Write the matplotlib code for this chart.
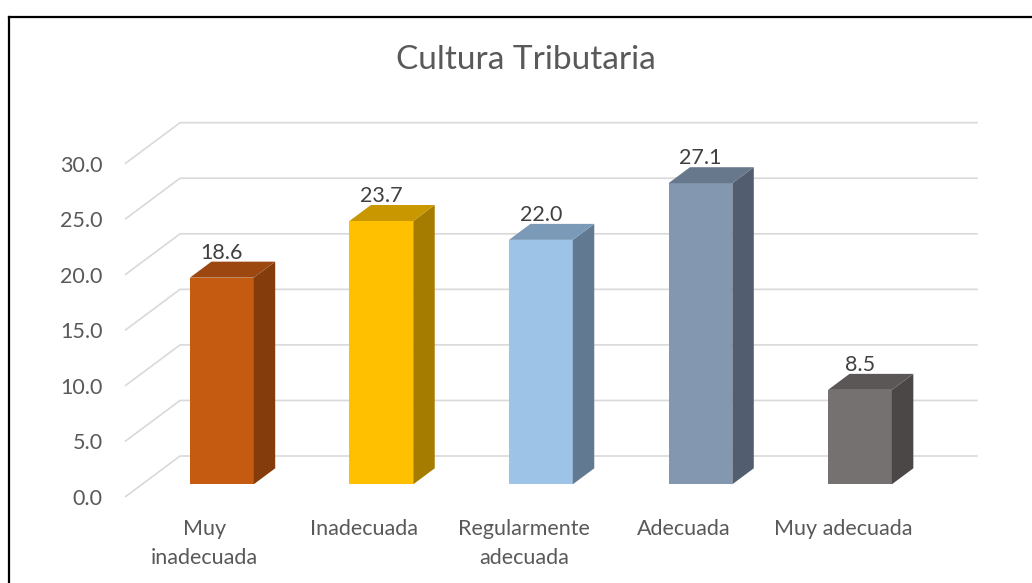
import matplotlib
matplotlib.use('Agg')
import matplotlib.pyplot as plt
from matplotlib.patches import Polygon
from matplotlib.lines import Line2D

categorias = ['Muy\ninadecuada', 'Inadecuada', 'Regularmente\nadecuada', 'Adecuada', 'Muy adecuada']
valores = [18.6, 23.7, 22.0, 27.1, 8.5]
colores = ['#C55A11', '#FFC000', '#9DC3E6', '#8497B0', '#767171']
lados = ['#843C0C', '#A67C00', '#627A91', '#525E6F', '#4B4747']
techos = ['#9C4710', '#C99700', '#7B9AB8', '#67778C', '#5B5757']
yticks = [0, 5, 10, 15, 20, 25, 30]

plt.rcParams['font.family'] = ['Lato', 'DejaVu Sans']

# falso 3D: desplazamiento de profundidad (en unidades de datos)
DX = 0.345
DY = 3.69
d1, d2 = 0.31, 0.70   # cara frontal / trasera de las barras
ancho = 0.4

fig = plt.figure(figsize=(10.32, 5.83), dpi=100)
ax = fig.add_axes([125/1032, (583-497)/583, (977.7-125)/1032, (497-122.7)/583])
ax.set_xlim(0, 5 + DX)
ax.set_ylim(0, 30 + DY)
for s in ax.spines.values():
    s.set_visible(False)

# lineas de cuadricula (suelo + pared del fondo)
for v in yticks:
    ax.plot([0, DX, 5 + DX], [v, v + DY, v + DY], color='#D9D9D9', lw=1.2,
            zorder=1, clip_on=False, solid_capstyle='butt')

x = [i + 0.5 for i in range(len(valores))]
xf = [xi + d1*DX for xi in x]
ax.bar(xf, valores, width=ancho, bottom=d1*DY, color=colores, zorder=3, lw=0)

px = (d2 - d1)*DX
py = (d2 - d1)*DY
for xi, v, cl, ct in zip(xf, valores, lados, techos):
    x0, x1 = xi - ancho/2, xi + ancho/2
    y0, y1 = d1*DY, v + d1*DY
    lado = Polygon([(x1, y0), (x1 + px, y0 + py), (x1 + px, y1 + py), (x1, y1)],
                   closed=True, fc=cl, lw=0, zorder=3)
    techo = Polygon([(x0, y1), (x1, y1), (x1 + px, y1 + py), (x0 + px, y1 + py)],
                    closed=True, fc=ct, lw=0, zorder=3)
    ax.add_patch(lado)
    ax.add_patch(techo)
    ax.annotate(f'{v:.1f}', (xi, y1 + py), xytext=(0, 2), textcoords='offset points',
                ha='center', va='baseline', fontsize=15.5, color='#404040')

ax.set_yticks(yticks, labels=[f'{v:.1f}' for v in yticks])
ax.tick_params(axis='y', length=0, pad=16, labelsize=15.5, labelcolor='#595959')
ax.set_xticks(x, categorias)
ax.tick_params(axis='x', length=0, pad=16, labelsize=15.5, labelcolor='#595959')
for t in ax.get_xticklabels():
    t.set_linespacing(1.55)

fig.text(526/1032, 1 - 60/583, 'Cultura Tributaria', ha='center', va='center',
         fontsize=24, color='#595959')

# marco
fig.add_artist(Line2D([9/1032, 1], [1 - 17/583, 1 - 17/583], color='black', lw=1.6))
fig.add_artist(Line2D([9/1032, 9/1032], [0, 1 - 17/583], color='black', lw=1.6))

fig.savefig('out.png', dpi=100)
